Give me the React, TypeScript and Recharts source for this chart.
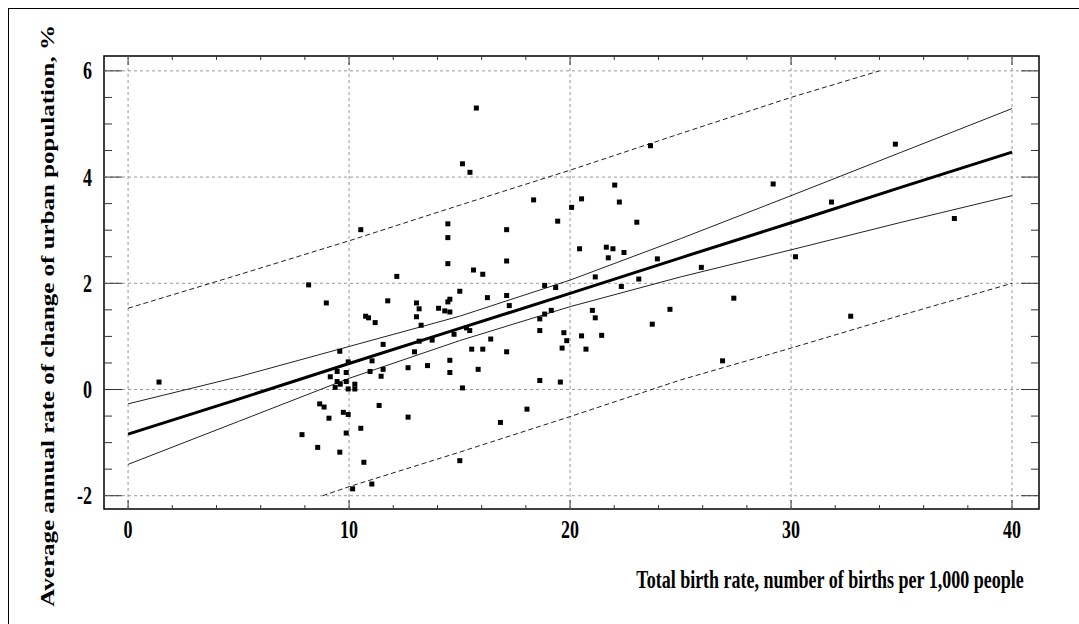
import React from 'react';
import { ComposedChart, XAxis, YAxis, Scatter, Line, ReferenceLine } from 'recharts';

// ---- data ----
const birthRate = [
  1.40, 10.53, 14.47, 14.47, 14.47, 12.16, 8.17, 8.97, 11.75, 13.05, 13.17, 14.05, 14.47, 14.56, 15.01, 14.33, 14.56, 10.75, 10.88, 11.18, 13.05, 13.26,
  9.58, 11.54, 13.17, 13.76, 14.75, 9.96, 11.04, 12.96, 9.46, 9.87, 9.15, 10.95, 11.54, 11.45, 12.67, 13.55, 14.56, 14.56, 9.46, 9.60, 9.87, 9.37, 9.96, 10.26, 10.26,
  8.67, 8.87, 9.74, 9.96, 11.36, 9.09, 12.67, 10.53, 9.87, 7.87, 8.58, 9.58, 10.67, 11.03, 10.16, 15.01,
  15.76, 15.13, 15.47, 18.35, 20.52, 22.02, 20.07, 22.23, 19.44, 23.02, 17.13, 20.43, 21.64, 21.94, 22.44, 21.73, 17.13, 15.63, 16.05, 21.14, 18.85, 19.35, 22.32, 23.11,
  16.26, 17.13, 17.25, 21.01, 21.14, 18.85, 19.15, 18.63, 18.63, 15.31, 15.46, 19.72, 20.52, 21.43, 19.85, 16.41, 19.64, 20.72, 15.55, 16.05, 17.13, 15.84, 18.63, 19.56, 15.13, 18.05, 16.85,
  23.64, 29.19, 31.83, 23.95, 25.94, 30.20, 27.41, 24.52, 23.72, 32.70, 26.90, 34.72, 37.39,
];
const urbanChange = [
  0.14, 3.01, 3.12, 2.86, 2.37, 2.13, 1.97, 1.63, 1.67, 1.63, 1.52, 1.53, 1.65, 1.70, 1.85, 1.48, 1.46, 1.38, 1.35, 1.26, 1.37, 1.21,
  0.72, 0.85, 0.91, 0.93, 1.04, 0.52, 0.54, 0.71, 0.34, 0.32, 0.24, 0.34, 0.38, 0.25, 0.41, 0.45, 0.55, 0.32, 0.15, 0.10, 0.15, 0.04, 0.01, 0.10, 0.01,
  -0.27, -0.33, -0.43, -0.47, -0.30, -0.54, -0.52, -0.73, -0.82, -0.85, -1.09, -1.18, -1.37, -1.78, -1.87, -1.34,
  5.30, 4.25, 4.09, 3.57, 3.59, 3.85, 3.43, 3.53, 3.17, 3.15, 3.01, 2.65, 2.68, 2.65, 2.58, 2.48, 2.42, 2.25, 2.17, 2.12, 1.96, 1.92, 1.94, 2.08,
  1.73, 1.77, 1.58, 1.49, 1.35, 1.42, 1.49, 1.33, 1.11, 1.16, 1.11, 1.07, 1.01, 1.02, 0.92, 0.95, 0.78, 0.76, 0.76, 0.76, 0.71, 0.38, 0.17, 0.14, 0.03, -0.37, -0.62,
  4.59, 3.87, 3.53, 2.46, 2.30, 2.50, 1.72, 1.51, 1.23, 1.38, 0.54, 4.62, 3.22,
];

const bandX = [0, 5, 10, 15, 20, 25, 30, 35, 40];
const fitY = [-0.84, -0.18, 0.49, 1.15, 1.81, 2.48, 3.14, 3.81, 4.47];
const confUpperY = [-0.27, 0.24, 0.81, 1.38, 2.06, 2.84, 3.65, 4.47, 5.29];
const confLowerY = [-1.41, -0.60, 0.21, 0.92, 1.56, 2.12, 2.63, 3.15, 3.65];
const predUpperX = [0, 5, 10, 15, 20, 25, 30, 34];
const predUpperY = [1.53, 2.16, 2.80, 3.47, 4.13, 4.82, 5.50, 6.0];
const predLowerX = [8.8, 10, 15, 20, 25, 30, 35, 40];
const predLowerY = [-2.0, -1.83, -1.18, -0.51, 0.18, 0.78, 1.40, 2.0];

const xMajor = [0, 10, 20, 30, 40];
const yMajor = [-2, 0, 2, 4, 6];
const xMinor = [0, 2, 4, 6, 8, 10, 12, 14, 16, 18, 20, 22, 24, 26, 28, 30, 32, 34, 36, 38, 40];
const yMinor = [-2, -1.5, -1, -0.5, 0, 0.5, 1, 1.5, 2, 2.5, 3, 3.5, 4, 4.5, 5, 5.5, 6];

const X_DOMAIN: [number, number] = [-1.09, 41.22];
const Y_DOMAIN: [number, number] = [-2.25, 6.28];

const points = birthRate.map((x, i) => ({ x, y: urbanChange[i] }));
const zip = (xs: number[], ys: number[]) => xs.map((x, i) => ({ x, y: ys[i] }));
const fitData = zip(bandX, fitY);
const cuData = zip(bandX, confUpperY);
const clData = zip(bandX, confLowerY);
const puData = zip(predUpperX, predUpperY);
const plData = zip(predLowerX, predLowerY);

const FONT = '"Liberation Serif", "Times New Roman", serif';
const TICK = '#333';

// plot frame in page pixels
const PL = 104, PR = 1039, PT = 56, PB = 509;

const isMajor = (v: number, arr: number[]) => arr.some((m) => Math.abs(m - v) < 1e-9);

const BottomTick = (props: any) => {
  const { x, payload } = props;
  const v = payload.value;
  const major = isMajor(v, xMajor);
  const y = PB;
  return (
    <g>
      <line x1={x} y1={y} x2={x} y2={y - (major ? 9 : 4)} stroke={TICK} strokeWidth={1} />
      {major && (
        <text transform={`translate(${x},${y + 29}) scale(0.72,1)`} textAnchor="middle" fontFamily={FONT} fontWeight="bold" fontSize={25} fill="#000">
          {String(v)}
        </text>
      )}
    </g>
  );
};

const TopTick = (props: any) => {
  const { x, payload } = props;
  const major = isMajor(payload.value, xMajor);
  return <line x1={x} y1={PT} x2={x} y2={PT + (major ? 9 : 4)} stroke={TICK} strokeWidth={1} />;
};

const LeftTick = (props: any) => {
  const { y, payload } = props;
  const v = payload.value;
  const major = isMajor(v, yMajor);
  const x = PL;
  return (
    <g>
      <line x1={x} y1={y} x2={x + (major ? 18 : 8)} y2={y} stroke={TICK} strokeWidth={1} />
      {major && (
        <text transform={`translate(${x - 12},${y + 8.5}) scale(0.72,1)`} textAnchor="end" fontFamily={FONT} fontWeight="bold" fontSize={25} fill="#000">
          {String(v)}
        </text>
      )}
    </g>
  );
};

const RightTick = (props: any) => {
  const { y, payload } = props;
  const major = isMajor(payload.value, yMajor);
  return <line x1={PR} y1={y} x2={PR - (major ? 18 : 8)} y2={y} stroke={TICK} strokeWidth={1} />;
};

const Square = (props: any) => {
  const { cx, cy } = props;
  if (cx == null || cy == null) return null;
  return <rect x={cx - 2.5} y={cy - 2.5} width={5} height={5} fill="#000" />;
};

const axisLine = { stroke: '#000', strokeWidth: 1.5 };

export default function App() {
  return (
    <div style={{ position: 'absolute', left: 0, top: 0, width: 1079, height: 624, background: '#fff', overflow: 'hidden' }}>
      <div style={{ position: 'absolute', left: 8, top: 8, width: 1, height: 616, background: '#000' }} />
      <div style={{ position: 'absolute', left: 8, top: 8, width: 1071, height: 1, background: '#000' }} />
      <div style={{ position: 'absolute', left: 0, top: 0 }}>
        <ComposedChart width={1079} height={624} margin={{ top: PT - 1, right: 1079 - PR - 1, bottom: 624 - PB - 1, left: PL - 1 }}>
          <XAxis xAxisId="b" type="number" dataKey="x" domain={X_DOMAIN} allowDataOverflow ticks={xMinor} interval={0}
            orientation="bottom" height={1} tickSize={0} tickMargin={0} axisLine={false} tick={<BottomTick />} />
          <XAxis xAxisId="t" type="number" dataKey="x" domain={X_DOMAIN} allowDataOverflow ticks={xMinor} interval={0}
            orientation="top" height={1} tickSize={0} tickMargin={0} axisLine={false} tick={<TopTick />} />
          <YAxis yAxisId="l" type="number" dataKey="y" domain={Y_DOMAIN} allowDataOverflow ticks={yMinor} interval={0}
            orientation="left" width={1} tickSize={0} tickMargin={0} axisLine={false} tick={<LeftTick />} />
          <YAxis yAxisId="r" type="number" dataKey="y" domain={Y_DOMAIN} allowDataOverflow ticks={yMinor} interval={0}
            orientation="right" width={1} tickSize={0} tickMargin={0} axisLine={false} tick={<RightTick />} />

          {xMajor.map((v) => (
            <ReferenceLine key={'gx' + v} xAxisId="b" yAxisId="l" x={v} stroke="#999" strokeDasharray="3 3" strokeWidth={1} />
          ))}
          {yMajor.map((v) => (
            <ReferenceLine key={'gy' + v} xAxisId="b" yAxisId="l" y={v} stroke="#999" strokeDasharray="3 3" strokeWidth={1} />
          ))}

          <Line xAxisId="b" yAxisId="l" data={puData} dataKey="y" type="linear" dot={false} stroke="#222" strokeWidth={1} strokeDasharray="5 3" isAnimationActive={false} />
          <Line xAxisId="b" yAxisId="l" data={plData} dataKey="y" type="linear" dot={false} stroke="#222" strokeWidth={1} strokeDasharray="5 3" isAnimationActive={false} />
          <Line xAxisId="b" yAxisId="l" data={cuData} dataKey="y" type="linear" dot={false} stroke="#222" strokeWidth={1} isAnimationActive={false} />
          <Line xAxisId="b" yAxisId="l" data={clData} dataKey="y" type="linear" dot={false} stroke="#222" strokeWidth={1} isAnimationActive={false} />
          <Line xAxisId="b" yAxisId="l" data={fitData} dataKey="y" type="linear" dot={false} stroke="#000" strokeWidth={3} isAnimationActive={false} />
          <Scatter xAxisId="b" yAxisId="l" data={points} dataKey="y" shape={<Square />} isAnimationActive={false} />

          <rect x={PL} y={PT} width={PR - PL} height={PB - PT} fill="none" stroke="#000" strokeWidth={1.5} />

          <text transform="translate(54,316) rotate(-90) scale(1,0.72)" textAnchor="middle" fontFamily={FONT} fontWeight="bold" fontSize={25} fill="#000">
            Average annual rate of change of urban population, %
          </text>
          <text transform="translate(830,588) scale(0.72,1)" textAnchor="middle" fontFamily={FONT} fontWeight="bold" fontSize={25} fill="#000">
            Total birth rate, number of births per 1,000 people
          </text>
        </ComposedChart>
      </div>
    </div>
  );
}
